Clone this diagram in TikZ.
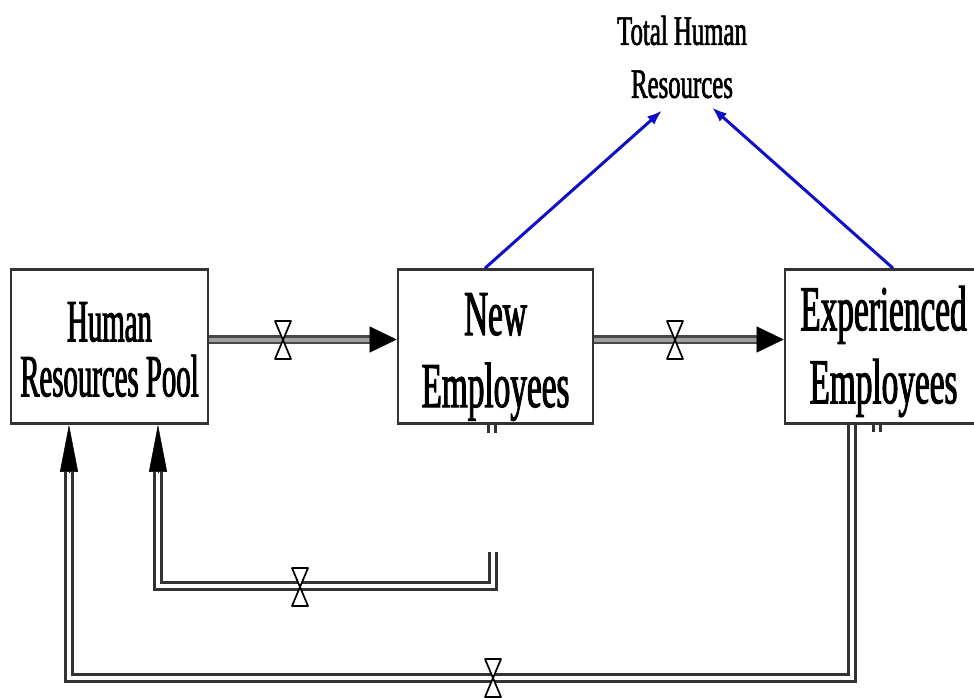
\documentclass[tikz,border=0pt]{standalone}
\usepackage{fontspec}
\setmainfont{Liberation Serif}
\newfontfamily\fsA[FakeStretch=0.48,FakeBold=1.5]{Liberation Serif}
\newfontfamily\fsB[FakeStretch=0.52,FakeBold=1.5]{Liberation Serif}
\newfontfamily\fsC[FakeStretch=0.59,FakeBold=1.5]{Liberation Serif}
\usetikzlibrary{arrows.meta,calc}
\definecolor{linkblue}{RGB}{15,15,200}
\tikzset{
 stock/.style={draw=black!80, line width=2.6pt, minimum height=154pt, inner sep=0pt},
 lbl/.style={inner sep=0pt, align=center},
 pipetop/.style={draw=black!72, line width=2.6pt, double=gray!75, double distance=4pt},
 pipe/.style={draw=black!80, line width=2.2pt, double=white, double distance=4.8pt},
 harrow/.style={draw=black, line width=0.5pt, -{Triangle[length=27pt,width=26pt]}},
 varrow/.style={draw=black, line width=0.5pt, -{Triangle[length=47pt,width=18pt]}},
 link/.style={draw=linkblue, line width=3pt, -{Latex[length=15pt,width=11pt]}},
 pics/valve/.style={code={
   \draw[black, line width=1.7pt, fill=white, line join=round] (-8,19) -- (8,19) -- (0,0) -- cycle;
   \draw[black, line width=1.7pt, fill=white, line join=round] (-8,-19) -- (8,-19) -- (0,0) -- cycle;}}
}
\begin{document}
\begin{tikzpicture}[x=1pt,y=1pt]
\path[use as bounding box, clip] (0,0) rectangle (974,-698);

% stocks (boxes)
\node[stock, minimum width=197pt] (hr) at (109.5,-346.5) {};
\node[stock, minimum width=195pt] (ne) at (495.5,-346.5) {};
\node[stock, minimum width=197pt] (ee) at (883.5,-346.5) {};

% labels
\node[lbl, font=\fsA\fontsize{60}{55}\selectfont] (hrt) at (109.5,-349.5) {Human\\Resources Pool};
\node[lbl, font=\fsB\fontsize{64}{72}\selectfont] (net) at (495.5,-357) {New\\Employees};
\node[lbl, font=\fsB\fontsize{64}{73}\selectfont] (eet) at (883.5,-351.5) {Experienced\\Employees};
\node[lbl, font=\fsC\fontsize{42}{53}\selectfont] (tot) at (682,-57) {Total Human\\Resources};

% flow 1: pool -> new
\coordinate (f1a) at ([yshift=7pt]hr.east);
\coordinate (f1t) at ([yshift=7pt]ne.west);
\coordinate (f1b) at ([xshift=-27pt]f1t);
\draw[pipetop] (f1a) -- (f1b);
\draw[harrow] (f1b) -- (f1t);
\pic at (283,-340) {valve};

% flow 2: new -> experienced
\coordinate (f2a) at ([yshift=7pt]ne.east);
\coordinate (f2t) at ([yshift=7pt]ee.west);
\coordinate (f2b) at ([xshift=-27pt]f2t);
\draw[pipetop] (f2a) -- (f2b);
\draw[harrow] (f2b) -- (f2t);
\pic at (675,-340) {valve};

% stubs under boxes
\draw[pipe] ([xshift=-3.5pt]ne.south) -- ++(0,-8);
\draw[pipe] ([xshift=-6.5pt]ee.south) -- ++(0,-7);

% flow 3: new -> pool (bottom inner loop)
\coordinate (f3s) at (493,-552);
\coordinate (c3) at (493,-586);
\coordinate (a3) at ([xshift=48.5pt]hr.south);
\coordinate (a3b) at ([yshift=-47pt]a3);
\draw[pipe] (f3s) -- (c3) -| (a3b);
\draw[varrow] (a3b) -- (a3);
\pic at (300,-587) {valve};

% flow 4: experienced -> pool (outer loop)
\coordinate (f4s) at ([xshift=-31.5pt]ee.south);
\coordinate (c4) at (852,-678);
\coordinate (a4) at ([xshift=-40.5pt]hr.south);
\coordinate (a4b) at ([yshift=-47pt]a4);
\draw[pipe] (f4s) -- (c4) -| (a4b);
\draw[varrow] (a4b) -- (a4);
\pic at (493,-678) {valve};

% information links
\coordinate (tl) at ([xshift=-20pt,yshift=-12pt]tot.south);
\coordinate (tr) at ([xshift=30pt,yshift=-9pt]tot.south);
\draw[link] ([xshift=-10.5pt]ne.north) -- (tl);
\draw[link] ([xshift=9.5pt]ee.north) -- (tr);
\end{tikzpicture}
\end{document}
